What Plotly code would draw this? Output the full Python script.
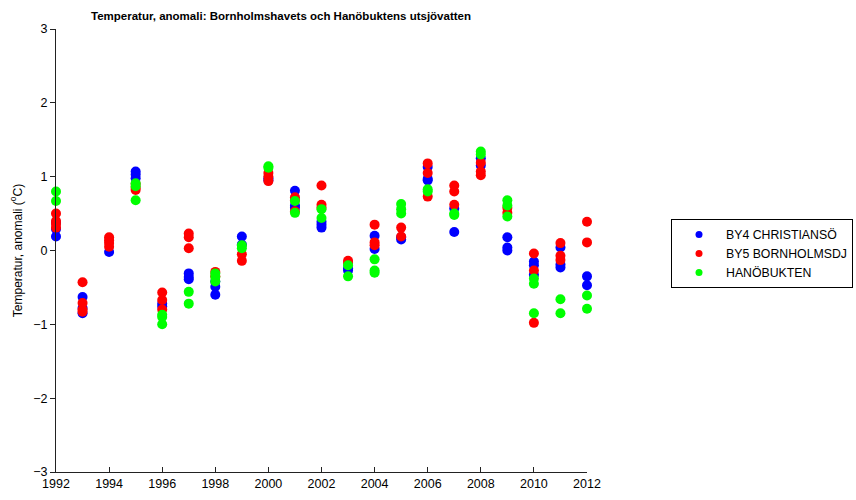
import plotly.graph_objects as go

# ---- data ----
by4_years = [1992, 1992, 1992, 1993, 1993, 1993, 1994, 1995, 1995, 1995,
             1996, 1996, 1997, 1997, 1997, 1998, 1998, 1998, 1999, 1999,
             2000, 2000, 2001, 2001, 2001, 2002, 2002, 2002, 2003, 2003,
             2004, 2004, 2005, 2005, 2006, 2006, 2006, 2007, 2007, 2008, 2008,
             2009, 2009, 2009, 2010, 2010, 2010, 2011, 2011, 2011, 2012, 2012]
by4_values = [0.19, 0.29, 0.38, -0.63, -0.78, -0.85, -0.02, 1.07, 1.03, 0.98,
              -0.72, -0.76, -0.31, -0.36, -0.39, -0.42, -0.49, -0.60, 0.19, 0.08,
              0.95, 0.98, 0.81, 0.61, 0.58, 0.39, 0.31, 0.35, -0.24, -0.27,
              0.20, 0.02, 0.15, 0.18, 1.13, 0.97, 0.95, 0.57, 0.25, 1.25, 1.15,
              0.18, 0.04, 0.00, -0.15, -0.20, -0.33, 0.04, -0.23, -0.19, -0.35, -0.47]

by5_years = [1992, 1992, 1992, 1992, 1993, 1993, 1993, 1993, 1994, 1994, 1994, 1994,
             1995, 1995, 1995, 1996, 1996, 1996, 1997, 1997, 1997, 1998, 1998,
             1999, 1999, 2000, 2000, 2000, 2001, 2001, 2001, 2002, 2002, 2002,
             2003, 2003, 2004, 2004, 2004, 2005, 2005, 2006, 2006, 2006,
             2007, 2007, 2007, 2008, 2008, 2008, 2009, 2009, 2010, 2010, 2010,
             2011, 2011, 2011, 2012, 2012]
by5_values = [0.31, 0.36, 0.40, 0.50, -0.43, -0.71, -0.80, -0.83, 0.18, 0.14, 0.10, 0.05,
              0.82, 0.85, 0.90, -0.57, -0.67, -0.80, 0.23, 0.18, 0.03, -0.29, -0.35,
              -0.05, -0.14, 1.05, 1.00, 0.94, 0.72, 0.68, 0.53, 0.88, 0.62, 0.58,
              -0.14, -0.17, 0.35, 0.11, 0.07, 0.31, 0.19, 1.18, 1.05, 0.73,
              0.88, 0.80, 0.62, 1.19, 1.07, 1.02, 0.51, 0.58, -0.04, -0.27, -0.98,
              0.10, -0.07, -0.13, 0.39, 0.11]

hano_years = [1992, 1992, 1995, 1995, 1995, 1996, 1996, 1996, 1997, 1997,
              1998, 1998, 1998, 1999, 1999, 2000, 2000, 2001, 2001, 2002, 2002,
              2003, 2003, 2004, 2004, 2004, 2005, 2005, 2005, 2006, 2006,
              2007, 2007, 2008, 2008, 2009, 2009, 2009, 2010, 2010, 2010,
              2011, 2011, 2012, 2012]
hano_values = [0.80, 0.67, 0.91, 0.87, 0.68, -0.87, -0.90, -1.00, -0.56, -0.72,
               -0.31, -0.42, -0.36, 0.07, 0.03, 1.14, 1.12, 0.67, 0.51, 0.56, 0.44,
               -0.20, -0.35, -0.12, -0.27, -0.30, 0.63, 0.56, 0.50, 0.83, 0.80,
               0.48, 0.50, 1.34, 1.30, 0.68, 0.61, 0.46, -0.38, -0.45, -0.85,
               -0.66, -0.85, -0.61, -0.79]

series_names = ["BY4 CHRISTIANSÖ", "BY5 BORNHOLMSDJ", "HANÖBUKTEN"]
series_colors = ["#0000ff", "#ff0000", "#00ff00"]
x_ticks = [1992, 1994, 1996, 1998, 2000, 2002, 2004, 2006, 2008, 2010, 2012]
y_ticks = [-3, -2, -1, 0, 1, 2, 3]

FONT = "Liberation Sans, Arial, Helvetica, sans-serif"

fig = go.Figure()
data = [(by4_years, by4_values), (by5_years, by5_values), (hano_years, hano_values)]
for (xs, ys), name, col in zip(data, series_names, series_colors):
    fig.add_trace(go.Scatter(x=xs, y=ys, mode="markers", name=name,
                             marker=dict(color=col, size=10, line=dict(width=0)),
                             cliponaxis=False, showlegend=False))
# legend-only entries with smaller markers
for name, col in zip(series_names, series_colors):
    fig.add_trace(go.Scatter(x=[None], y=[None], mode="markers", name=name,
                             marker=dict(color=col, size=7, line=dict(width=0))))

fig.update_layout(
    width=856, height=500,
    margin=dict(l=56, r=269, t=29, b=28, pad=0, autoexpand=False),
    paper_bgcolor="white", plot_bgcolor="white",
    font=dict(family=FONT, size=12, color="black"),
    title=dict(text="<b>Temperatur, anomali: Bornholmshavets och Hanöbuktens utsjövatten</b>",
               x=281 / 856, xref="container", xanchor="center",
               y=1 - 16 / 500, yref="container", yanchor="middle",
               font=dict(family=FONT, size=11.5, color="black")),
    legend=dict(x=(671 - 56) / 531, y=(472 - 219) / 443, xanchor="left", yanchor="top",
                bordercolor="black", borderwidth=1, bgcolor="white",
                font=dict(family=FONT, size=12.3, color="black"),
                itemwidth=44, tracegroupgap=0),
    xaxis=dict(range=[1992, 2012], tickvals=x_ticks, ticks="inside", ticklen=5,
               showline=True, linecolor="#222", linewidth=1, tickcolor="#222",
               showgrid=False, zeroline=False, tickfont=dict(size=12.5),
               mirror=False, automargin=False),
    yaxis=dict(range=[-3, 3], tickvals=y_ticks, ticks="outside", ticklen=5,
               showline=True, linecolor="#222", linewidth=1, tickcolor="#222",
               showgrid=False, zeroline=False, tickfont=dict(size=12.5),
               automargin=False,
               title=dict(text="Temperatur, anomali (<sup>o</sup>C)", standoff=8,
                          font=dict(size=12))),
)

fig.write_html("out.html", config={"displayModeBar": False},
               post_script="document.body.style.margin='0';document.body.style.padding='0';")
